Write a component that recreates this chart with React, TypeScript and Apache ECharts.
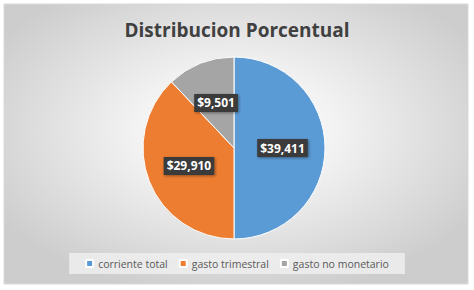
import React, { useEffect, useRef } from "react";
import * as echarts from "echarts";

const categories = ["corriente total", "gasto trimestral", "gasto no monetario"];
const values = [39411, 29910, 9501];
const colors = ["#5B9BD5", "#ED7D31", "#A5A5A5"];

const fmt = (v: number) => "$" + v.toLocaleString("en-US");

export default function App() {
  const ref = useRef<HTMLDivElement>(null);
  useEffect(() => {
    const chart = echarts.init(ref.current!, null, { renderer: "svg" });
    chart.setOption({
      animation: false,
      backgroundColor: "#ffffff",
      graphic: [
        {
          type: "rect",
          z: -10,
          silent: true,
          shape: { x: 4, y: 4, width: 464, height: 280 },
          style: {
            fill: {
              type: "radial",
              x: 0.5,
              y: 0.45,
              r: 0.6,
              colorStops: [
                { offset: 0, color: "#ffffff" },
                { offset: 0.35, color: "#f3f3f3" },
                { offset: 1, color: "#cdcdcd" },
              ],
            },
            stroke: "#d9d9d9",
            lineWidth: 1,
          },
        },
      ],
      title: {
        text: "Distribucion Porcentual",
        left: "center",
        top: 15,
        textStyle: {
          fontFamily: "Open Sans",
          fontWeight: "bold",
          fontSize: 19,
          color: "#404040",
        },
      },
      legend: {
        bottom: 16,
        left: "center",
        icon: "rect",
        itemWidth: 7,
        itemHeight: 7,
        itemGap: 11,
        padding: [5, 16],
        backgroundColor: "rgba(238,238,238,0.85)",
        textStyle: { fontFamily: "Open Sans", fontSize: 10.5, color: "#595959" },
        data: categories,
      },
      series: [
        {
          type: "pie",
          center: [234, 148],
          radius: 91,
          startAngle: 90,
          clockwise: true,
          itemStyle: { borderColor: "#ffffff", borderWidth: 1 },
          label: {
            position: "inside",
            formatter: (p: any) => fmt(p.value),
            color: "#ffffff",
            fontFamily: "Open Sans",
            fontWeight: "bold",
            fontSize: 12,
            backgroundColor: "#3a3a3a",
            padding: [3, 3],
            shadowColor: "rgba(0,0,0,0.4)",
            shadowBlur: 3,
            shadowOffsetX: 1,
            shadowOffsetY: 1,
          },
          labelLine: { show: false },
          data: categories.map((c, i) => ({
            name: c,
            value: values[i],
            itemStyle: { color: colors[i] },
          })),
        },
      ],
    });
    return () => chart.dispose();
  }, []);
  return (
    <div
      ref={ref}
      style={{ position: "fixed", left: 0, top: 0, width: 474, height: 290 }}
    />
  );
}
